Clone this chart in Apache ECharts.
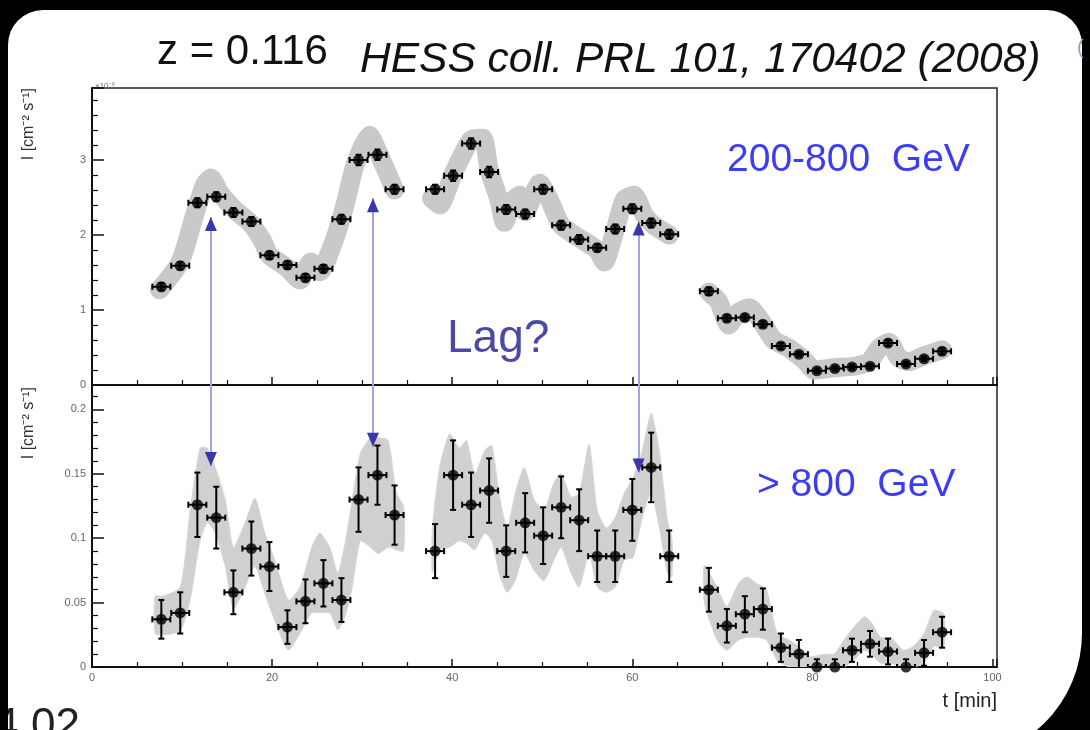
<!DOCTYPE html>
<html>
<head>
<meta charset="utf-8">
<script src="https://cdn.jsdelivr.net/npm/echarts@6.0.0/dist/echarts.min.js"></script>
<style>
  html, body { margin:0; padding:0; background:#000; width:1090px; height:730px; overflow:hidden; }
  #paper { position:absolute; left:8px; top:10px; width:1074px; height:750px; background:#fff;
           border-radius:35px 35px 127px 20px; }
  #chart { position:absolute; left:0; top:0; width:1090px; height:730px; }
</style>
</head>
<body>
<div id="paper"></div>
<div id="chart"></div>
<script>
// ---------------- data ----------------
// time bin centres [min]
const tBins = [7.7, 9.8, 11.7, 13.8, 15.7, 17.7, 19.7, 21.7, 23.7, 25.7, 27.7, 29.6, 31.7, 33.6,
               38.1, 40.1, 42.1, 44.1, 46.0, 48.1, 50.1, 52.1, 54.1, 56.1, 58.1, 60.0, 62.1, 64.1,
               68.5, 70.5, 72.5, 74.5, 76.5, 78.5, 80.5, 82.5, 84.4, 86.4, 88.4, 90.4, 92.4, 94.4];
const binHalfWidth = 1.0;

// 200-800 GeV flux (x 1e-9 cm^-2 s^-1)
const fluxLow = [1.31, 1.59, 2.43, 2.51, 2.30, 2.18, 1.73, 1.60, 1.43, 1.55, 2.21, 3.00, 3.07, 2.61,
                 2.61, 2.79, 3.22, 2.84, 2.34, 2.28, 2.61, 2.13, 1.94, 1.83, 2.08, 2.35, 2.16, 2.01,
                 1.25, 0.89, 0.90, 0.81, 0.52, 0.41, 0.19, 0.22, 0.24, 0.25, 0.56, 0.28, 0.35, 0.45];
const errLow  = [0.05, 0.05, 0.06, 0.06, 0.06, 0.06, 0.05, 0.05, 0.05, 0.05, 0.06, 0.07, 0.07, 0.06,
                 0.06, 0.07, 0.07, 0.07, 0.06, 0.06, 0.06, 0.06, 0.06, 0.05, 0.06, 0.06, 0.06, 0.06,
                 0.05, 0.04, 0.04, 0.04, 0.04, 0.03, 0.03, 0.03, 0.03, 0.03, 0.04, 0.03, 0.03, 0.04];

// > 800 GeV flux (cm^-2 s^-1, scaled as on the axis)
const fluxHigh = [0.037, 0.042, 0.126, 0.116, 0.058, 0.092, 0.078, 0.031, 0.051, 0.065, 0.052, 0.130, 0.149, 0.118,
                  0.090, 0.149, 0.126, 0.137, 0.090, 0.112, 0.102, 0.124, 0.114, 0.086, 0.086, 0.122, 0.155, 0.086,
                  0.060, 0.032, 0.041, 0.045, 0.015, 0.010, 0.000, 0.000, 0.013, 0.018, 0.012, 0.000, 0.011, 0.027];
const errHigh  = [0.015, 0.016, 0.025, 0.024, 0.017, 0.021, 0.019, 0.013, 0.017, 0.018, 0.017, 0.025, 0.023, 0.023,
                  0.021, 0.027, 0.025, 0.025, 0.020, 0.023, 0.022, 0.024, 0.024, 0.020, 0.020, 0.024, 0.027, 0.020,
                  0.017, 0.013, 0.014, 0.016, 0.011, 0.011, 0.006, 0.006, 0.009, 0.010, 0.010, 0.006, 0.010, 0.012];

// grey band, upper panel (centre line; null = gap)
const bandLowT = [7.5, 9.8, 11.4, 12.5, 13.2, 14.2, 15.9, 17.5, 18.9, 19.7, 21.7, 23.1, 24.3, 25.3, 26.9, 28.1, 29.2, 30.8, 31.9, 33.6,
                  35.6,
                  37.7, 38.6, 40.2, 42.1, 43.4, 44.1, 45.2, 45.8, 46.8, 47.5, 48.1, 49.7, 50.8, 52.1, 54.1, 56.1, 56.9, 58.1, 59.1, 60.2, 61.3, 62.4, 64.1,
                  66.3,
                  68.5, 69.6, 70.7, 71.8, 73.0, 74.6, 75.7, 77.4, 79.1, 80.2, 82.4, 84.6, 86.3, 87.4, 88.5, 89.6, 90.7, 92.4, 94.4];
const bandLowV = [1.27, 1.64, 2.27, 2.67, 2.76, 2.56, 2.33, 2.17, 1.93, 1.73, 1.56, 1.40, 1.64, 1.51, 1.93, 2.40, 2.93, 3.33, 3.07, 2.60,
                  null,
                  2.49, 2.40, 2.84, 3.27, 3.29, 2.87, 2.47, 2.17, 2.47, 2.53, 2.31, 2.69, 2.47, 2.13, 1.96, 1.80, 1.64, 2.07, 2.47, 2.53, 2.27, 2.13, 2.00,
                  null,
                  1.24, 1.11, 0.80, 0.97, 1.03, 0.80, 0.60, 0.49, 0.33, 0.20, 0.23, 0.25, 0.31, 0.49, 0.57, 0.36, 0.31, 0.39, 0.47];

// grey band, lower panel (low / high edge; null = gap)
const bandHighT  = [7.0, 7.8, 9.8, 10.9, 12.0, 12.8, 13.7, 14.8, 15.7, 17.0, 18.1, 19.2, 20.3, 21.8, 23.1, 24.4, 25.3, 26.4, 27.3, 28.1, 28.9, 29.8, 30.9, 31.8, 32.9, 33.8, 34.6,
                    36.0,
                    37.8, 38.6, 39.7, 40.8, 41.6, 42.5, 43.6, 44.4, 45.2, 46.1, 47.0, 48.0, 49.1, 50.2, 51.3, 52.1, 53.2, 54.1, 55.2, 56.1, 57.1, 58.1, 59.1, 60.1, 61.1, 62.1, 63.0, 63.9, 64.4,
                    66.3,
                    68.0, 69.4, 70.5, 71.8, 72.7, 73.8, 74.9, 76.1, 77.4, 78.5, 79.8, 81.3, 82.4, 83.5, 84.6, 85.8, 86.5, 87.6, 88.7, 90.1, 91.2, 92.4, 93.5, 94.6];
const bandHighLo = [0.026, 0.025, 0.028, 0.052, 0.098, 0.112, 0.104, 0.078, 0.045, 0.062, 0.078, 0.057, 0.036, 0.013, 0.026, 0.042, 0.042, 0.042, 0.029, 0.039, 0.062, 0.098, 0.093, 0.088, 0.093, 0.091, 0.090,
                    null,
                    0.073, 0.091, 0.093, 0.098, 0.096, 0.091, 0.104, 0.098, 0.073, 0.058, 0.067, 0.088, 0.075, 0.067, 0.083, 0.093, 0.073, 0.062, 0.088, 0.062, 0.058, 0.062, 0.083, 0.085, 0.116, 0.135, 0.108, 0.073, 0.070,
                    null,
                    0.050, 0.021, 0.013, 0.021, 0.023, 0.023, 0.021, 0.005, 0.000, 0.000, 0.000, 0.000, 0.000, 0.000, 0.005, 0.013, 0.010, 0.003, 0.003, 0.000, 0.000, 0.003, 0.016, 0.016];
const bandHighHi = [0.055, 0.055, 0.062, 0.122, 0.170, 0.170, 0.155, 0.130, 0.093, 0.112, 0.131, 0.104, 0.083, 0.052, 0.062, 0.093, 0.104, 0.093, 0.073, 0.096, 0.130, 0.166, 0.178, 0.178, 0.176, 0.135, 0.125,
                    null,
                    0.108, 0.155, 0.181, 0.170, 0.176, 0.150, 0.168, 0.172, 0.135, 0.108, 0.135, 0.155, 0.130, 0.122, 0.143, 0.150, 0.132, 0.135, 0.173, 0.122, 0.108, 0.116, 0.135, 0.147, 0.168, 0.197, 0.168, 0.114, 0.100,
                    null,
                    0.079, 0.062, 0.047, 0.065, 0.070, 0.065, 0.060, 0.026, 0.021, 0.016, 0.008, 0.010, 0.010, 0.021, 0.031, 0.039, 0.035, 0.023, 0.023, 0.013, 0.016, 0.026, 0.044, 0.041];

// "lag" arrows
const arrowT       = [13.2, 31.2, 60.7];
const arrowTipLow  = [2.24, 2.49, 2.18];
const arrowTipHigh = [0.156, 0.171, 0.151];

// axis ranges / ticks
const xRange = [0, 100.5], xStep = 20;
const yLowRange = [0, 3.96], yLowStep = 1;
const yHighRange = [0, 0.219], yHighStep = 0.05;

// ---------------- chart ----------------
const FONT = '"Liberation Sans", Arial, Helvetica, sans-serif';
const chart = echarts.init(document.getElementById('chart'), null, {renderer:'canvas'});

function errRender(params, api) {
  const t = api.value(0), v = api.value(1), e = api.value(2);
  const l = api.coord([t - binHalfWidth, v]), r = api.coord([t + binHalfWidth, v]);
  const u = api.coord([t, v + e]), d = api.coord([t, v - e]);
  const cap = 3;
  const st = {stroke:'#000', lineWidth:2};
  return {type:'group', children:[
    {type:'line', shape:{x1:l[0], y1:l[1], x2:r[0], y2:r[1]}, style:st},
    {type:'line', shape:{x1:u[0], y1:u[1], x2:d[0], y2:d[1]}, style:st},
    {type:'line', shape:{x1:u[0]-cap, y1:u[1], x2:u[0]+cap, y2:u[1]}, style:st},
    {type:'line', shape:{x1:d[0]-cap, y1:d[1], x2:d[0]+cap, y2:d[1]}, style:st},
    {type:'line', shape:{x1:l[0], y1:l[1]-cap, x2:l[0], y2:l[1]+cap}, style:st},
    {type:'line', shape:{x1:r[0], y1:r[1]-cap, x2:r[0], y2:r[1]+cap}, style:st}
  ]};
}

// split lower band into segments
const segs = [];
let cur = [];
bandHighT.forEach((t, i) => {
  if (bandHighLo[i] == null) { if (cur.length) segs.push(cur); cur = []; }
  else cur.push(i);
});
if (cur.length) segs.push(cur);

function bandRender(params, api) {
  const seg = segs[params.dataIndex];
  const up = [], dn = [];
  seg.forEach(i => {
    up.push(api.coord([bandHighT[i], bandHighHi[i]]));
    dn.push(api.coord([bandHighT[i], bandHighLo[i]]));
  });
  return {type:'polygon', shape:{points: up.concat(dn.reverse()), smooth:0.2},
          style:{fill:'#d0d0d0', stroke:'#d8d8d8', lineWidth:1}};
}

const axisLineStyle = {color:'#111', width:2};
function xAxisCfg(grid, labels) {
  return {
    type:'value', gridIndex:grid, min:xRange[0], max:xRange[1], interval:xStep,
    axisLine:{show:true, onZero:false, lineStyle:axisLineStyle},
    axisTick:{show:true, inside:true, length:8, lineStyle:{color:'#111', width:1.5}},
    minorTick:{show:true, splitNumber:4, length:5, lineStyle:{color:'#111', width:1.2}},
    splitLine:{show:false}, minorSplitLine:{show:false},
    axisLabel:{show:labels, fontSize:11, color:'#666', margin:5, showMaxLabel:false, fontFamily:FONT}
  };
}
function yAxisCfg(grid, range, step) {
  return {
    type:'value', gridIndex:grid, min:range[0], max:range[1], interval:step,
    axisLine:{show:true, onZero:false, lineStyle:axisLineStyle},
    axisTick:{show:true, inside:true, length:12, lineStyle:{color:'#111', width:1.5}},
    minorTick:{show:true, splitNumber:5, length:6, lineStyle:{color:'#111', width:1.2}},
    splitLine:{show:false}, minorSplitLine:{show:false},
    axisLabel:{show:true, fontSize:11, color:'#666', margin:6, showMaxLabel:false, fontFamily:FONT}
  };
}

function txt(text, x, y, font, fill, align, extra) {
  return Object.assign({
    type:'text', x:x, y:y, silent:true,
    style:{text:text, font:font, fill:fill, textAlign:align, textVerticalAlign:'middle',
           align:align, verticalAlign:'middle'}
  }, extra || {});
}

const option = {
  backgroundColor:'transparent',
  animation:false,
  grid:[
    {left:92, top:88, width:905, height:297, show:true, borderColor:'#222', borderWidth:1.5, backgroundColor:'transparent'},
    {left:92, top:385, width:905, height:282, show:true, borderColor:'#222', borderWidth:1.5, backgroundColor:'transparent'}
  ],
  xAxis:[xAxisCfg(0, false), xAxisCfg(1, true)],
  yAxis:[yAxisCfg(0, yLowRange, yLowStep), yAxisCfg(1, yHighRange, yHighStep)],
  series:[
    { // upper grey band
      type:'line', xAxisIndex:0, yAxisIndex:0, z:1, symbol:'none', smooth:0.2, connectNulls:false,
      data: bandLowT.map((t, i) => [t, bandLowV[i] == null ? '-' : bandLowV[i]]),
      lineStyle:{color:'#c9c9c9', width:19, cap:'round', join:'round'}
    },
    { // lower grey band
      type:'custom', xAxisIndex:1, yAxisIndex:1, z:1, clip:true,
      data: segs.map(s => [bandHighT[s[0]], bandHighLo[s[0]]]),
      renderItem: bandRender
    },
    { type:'custom', xAxisIndex:0, yAxisIndex:0, z:3, clip:true,
      data: tBins.map((t, i) => [t, fluxLow[i], errLow[i]]), renderItem: errRender },
    { type:'scatter', xAxisIndex:0, yAxisIndex:0, z:4, symbol:'circle', symbolSize:11,
      itemStyle:{color:'#000'}, data: tBins.map((t, i) => [t, fluxLow[i]]) },
    { type:'custom', xAxisIndex:1, yAxisIndex:1, z:3, clip:true,
      data: tBins.map((t, i) => [t, fluxHigh[i], errHigh[i]]), renderItem: errRender },
    { type:'scatter', xAxisIndex:1, yAxisIndex:1, z:4, symbol:'circle', symbolSize:11, clip:false,
      itemStyle:{color:'#000'}, data: tBins.map((t, i) => [t, fluxHigh[i]]) },
    { // arrows, upper part
      type:'scatter', xAxisIndex:0, yAxisIndex:0, z:2, data:[],
      markLine:{silent:true, symbol:['none','none'], label:{show:false},
        lineStyle:{color:'#a4a4e0', width:2, type:'solid'},
        data: arrowT.map((t, i) => [{coord:[t, yLowRange[0]]}, {coord:[t, arrowTipLow[i]]}])},
      markPoint:{silent:true, symbol:'triangle', symbolSize:[12, 14], symbolOffset:[0, 7],
        itemStyle:{color:'#3838a8'}, label:{show:false},
        data: arrowT.map((t, i) => ({coord:[t, arrowTipLow[i]]}))}
    },
    { // arrows, lower part
      type:'scatter', xAxisIndex:1, yAxisIndex:1, z:2, data:[],
      markLine:{silent:true, symbol:['none','none'], label:{show:false},
        lineStyle:{color:'#a4a4e0', width:2, type:'solid'},
        data: arrowT.map((t, i) => [{coord:[t, yHighRange[1]]}, {coord:[t, arrowTipHigh[i]]}])},
      markPoint:{silent:true, symbol:'triangle', symbolSize:[12, 14], symbolRotate:180, symbolOffset:[0, -7],
        itemStyle:{color:'#3838a8'}, label:{show:false},
        data: arrowT.map((t, i) => ({coord:[t, arrowTipHigh[i]]}))}
    }
  ],
  graphic:[
    txt('z = 0.116', 157, 52, '42px ' + FONT, '#111', 'left'),
    txt('HESS coll. PRL 101, 170402 (2008)', 360, 60, 'italic 42.5px ' + FONT, '#111', 'left'),
    txt('200-800  GeV', 727, 160, '39px ' + FONT, '#3c3cf2', 'left'),
    txt('> 800  GeV', 757, 485, '39px ' + FONT, '#3c3cf2', 'left'),
    txt('Lag?', 447, 339, '46px ' + FONT, '#4a4aa6', 'left'),
    txt('t [min]', 997, 701, '20px ' + FONT, '#222', 'right'),
    txt('I [cm\u207B\u00B2 s\u207B\u00B9]', 29, 88, '16px ' + FONT, '#333', 'right', {rotation:Math.PI/2}),
    txt('I [cm\u207B\u00B2 s\u207B\u00B9]', 29, 387, '16px ' + FONT, '#333', 'right', {rotation:Math.PI/2}),
    txt('\u00D710\u207B\u2079', 95, 86, '8px ' + FONT, '#666', 'left'),
    txt('4.02', 80, 727, '44px ' + FONT, '#222', 'right'),
    txt('(', 1077, 48, '20px ' + FONT, '#9aa0c8', 'left'),
    {type:'rect', silent:true, z:100, shape:{x:0, y:0, width:8, height:730}, style:{fill:'#000'}}
  ]
};
chart.setOption(option);
</script>
</body>
</html>
